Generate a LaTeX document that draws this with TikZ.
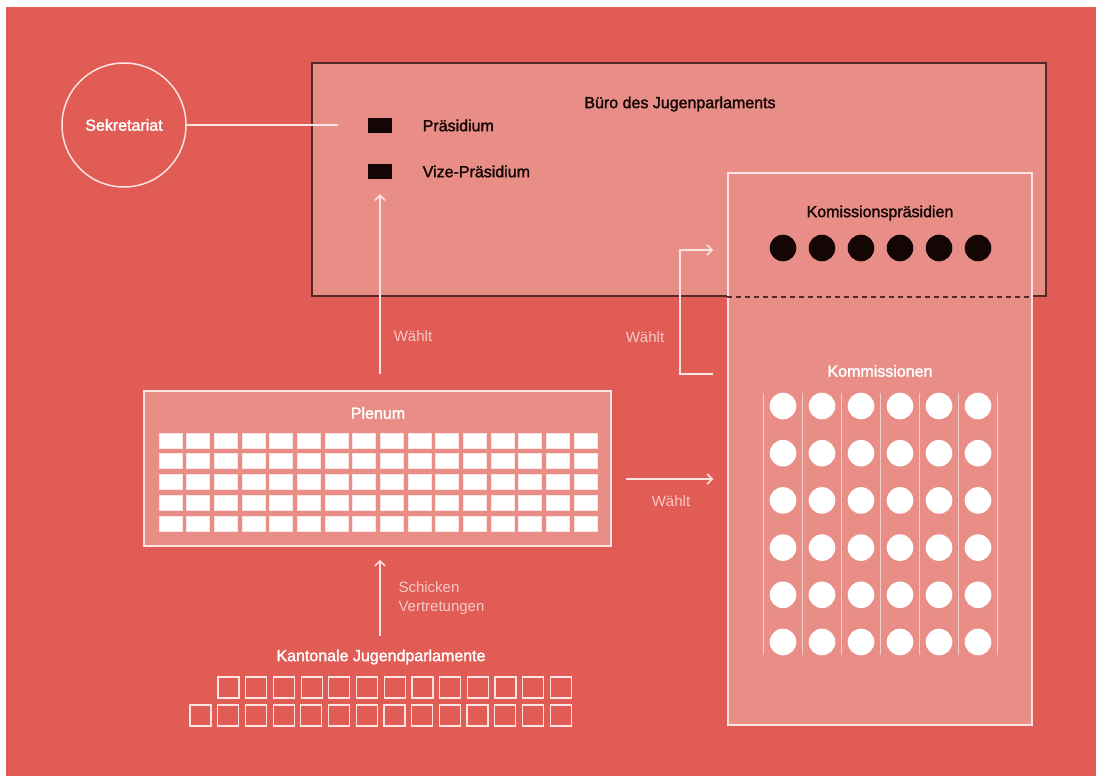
\documentclass[tikz,border=0pt]{standalone}
\usepackage{fontspec}
\setmainfont{Liberation Sans}
\newfontfamily\medfont{Liberation Sans}[FakeBold=1.8]
\usepackage{xcolor}
\usetikzlibrary{positioning, arrows.meta}

\definecolor{bgred}{HTML}{E15C55}
\definecolor{panel}{HTML}{E98E87}
\definecolor{frame}{HTML}{55292A}
\definecolor{ink}{HTML}{140605}
\definecolor{pale}{HTML}{FBE4E1}
\definecolor{soft}{HTML}{F6C9C4}

\begin{document}
\begin{tikzpicture}[
    x=1pt, y=-1pt,
    panelbox/.style={draw=pale, line width=1.5pt, fill=panel, inner sep=0pt},
    chair/.style={fill=ink, minimum width=24pt, minimum height=15pt, inner sep=0pt},
    seat/.style={fill=white, draw=pale, line width=0.6pt},
    kbox/.style={draw=pale, line width=1.2pt},
    title/.style={font=\medfont\fontsize{16}{19}\selectfont, text=ink},
    wtitle/.style={title, text=white},
    note/.style={font=\fontsize{15}{19}\selectfont, text=soft, align=left},
    arr/.style={-{Straight Barb[length=5pt, width=10pt]}, draw=pale, line width=1.5pt},
    wline/.style={draw=pale, line width=1.5pt}
]
\useasboundingbox (0,0) rectangle (1096,776);

% --- Background ---
\fill[white] (0,0) rectangle (1096,776);
\fill[bgred] (6,7) rectangle (1096,776);

% --- Buero ---
\node[draw=frame, line width=1.8pt, fill=panel, minimum width=734pt,
      minimum height=233pt, inner sep=0pt] (buero) at (679,179.5) {};
\node[title] (buerotitle) at (680,104) {Büro des Jugenparlaments};
\node[chair] (praes) at (380,125.5) {};
\node[chair] (vize) at (380,171.5) {};
\node[title, right=27pt of praes] (praeslabel) {Präsidium};
\node[title, right=27pt of vize] (vizelabel) {Vize-Präsidium};

% --- Sekretariat ---
\node[circle, draw=pale, line width=1.5pt, minimum size=124pt, inner sep=0pt,
      wtitle] (sek) at (124,125) {Sekretariat};
\coordinate (sekend) at (338,125);
\draw[wline] (sek) -- (sekend);

% --- Kommissionen ---
\node[panelbox, minimum width=304pt, minimum height=552pt] (kom) at (880,449) {};
\draw[draw=frame, line width=1.8pt, dash pattern=on 5pt off 4pt]
    (kom.west |- buero.south) -- (kom.east |- buero.south);
\node[title] (komptitle) at (880,213) {Komissionspräsidien};
\foreach \i in {0,...,5}
    \fill[ink] (783+39*\i,248) circle (13.3pt);
\node[wtitle] (komtitle) at (880,371) {Kommissionen};
\foreach \x in {763,802,...,997}
    \draw[pale, opacity=0.75, line width=1pt] (\x,393) -- (\x,655);
\foreach \i in {0,...,5}
    \foreach \j in {0,...,5}
        \fill[white] (783+39*\i,406+47.2*\j) circle (13.3pt);

% --- Plenum ---
\node[panelbox, minimum width=467pt, minimum height=155pt] (plenum) at (377.5,468.5) {};
\node[wtitle] (plentitle) at (378,413) {Plenum};
\foreach \i in {0,...,15}
    \foreach \j in {0,...,4}
        \filldraw[seat] (159+27.67*\i,433+20.75*\j) rectangle ++(23,15);

% --- Kantonale Jugendparlamente ---
\node[wtitle] (kant) at (381,657) {Kantonale Jugendparlamente};
\foreach \i in {0,...,12}
    \draw[kbox] (218+27.7*\i,677) rectangle ++(21,21);
\foreach \i in {0,...,13}
    \draw[kbox] (190+27.7*\i,705) rectangle ++(21,21);

% --- Arrows ---
\coordinate (kanttop) at (380,636);
\draw[arr, shorten >=13pt] (kanttop) -- (kanttop |- plenum.south);
\node[note, anchor=west] (schicken) at (395,598.5) {Schicken\\Vertretungen};

\draw[arr, shorten <=16pt, shorten >=15pt] (plenum.north -| vize) -- (vize.south);
\node[note] (waehlt1) at (413,336) {Wählt};

\coordinate (plenout) at (611,479);
\draw[arr, shorten <=15pt, shorten >=14pt] (plenout) -- (plenout -| kom.west);
\node[note] (waehlt2) at (671,501) {Wählt};

\coordinate (komout) at (713,374);
\coordinate (komin) at (713,250);
\draw[arr] (komout) -- ++(-33,0) |- (komin);
\node[note] (waehlt3) at (645,337) {Wählt};

\end{tikzpicture}
\end{document}
